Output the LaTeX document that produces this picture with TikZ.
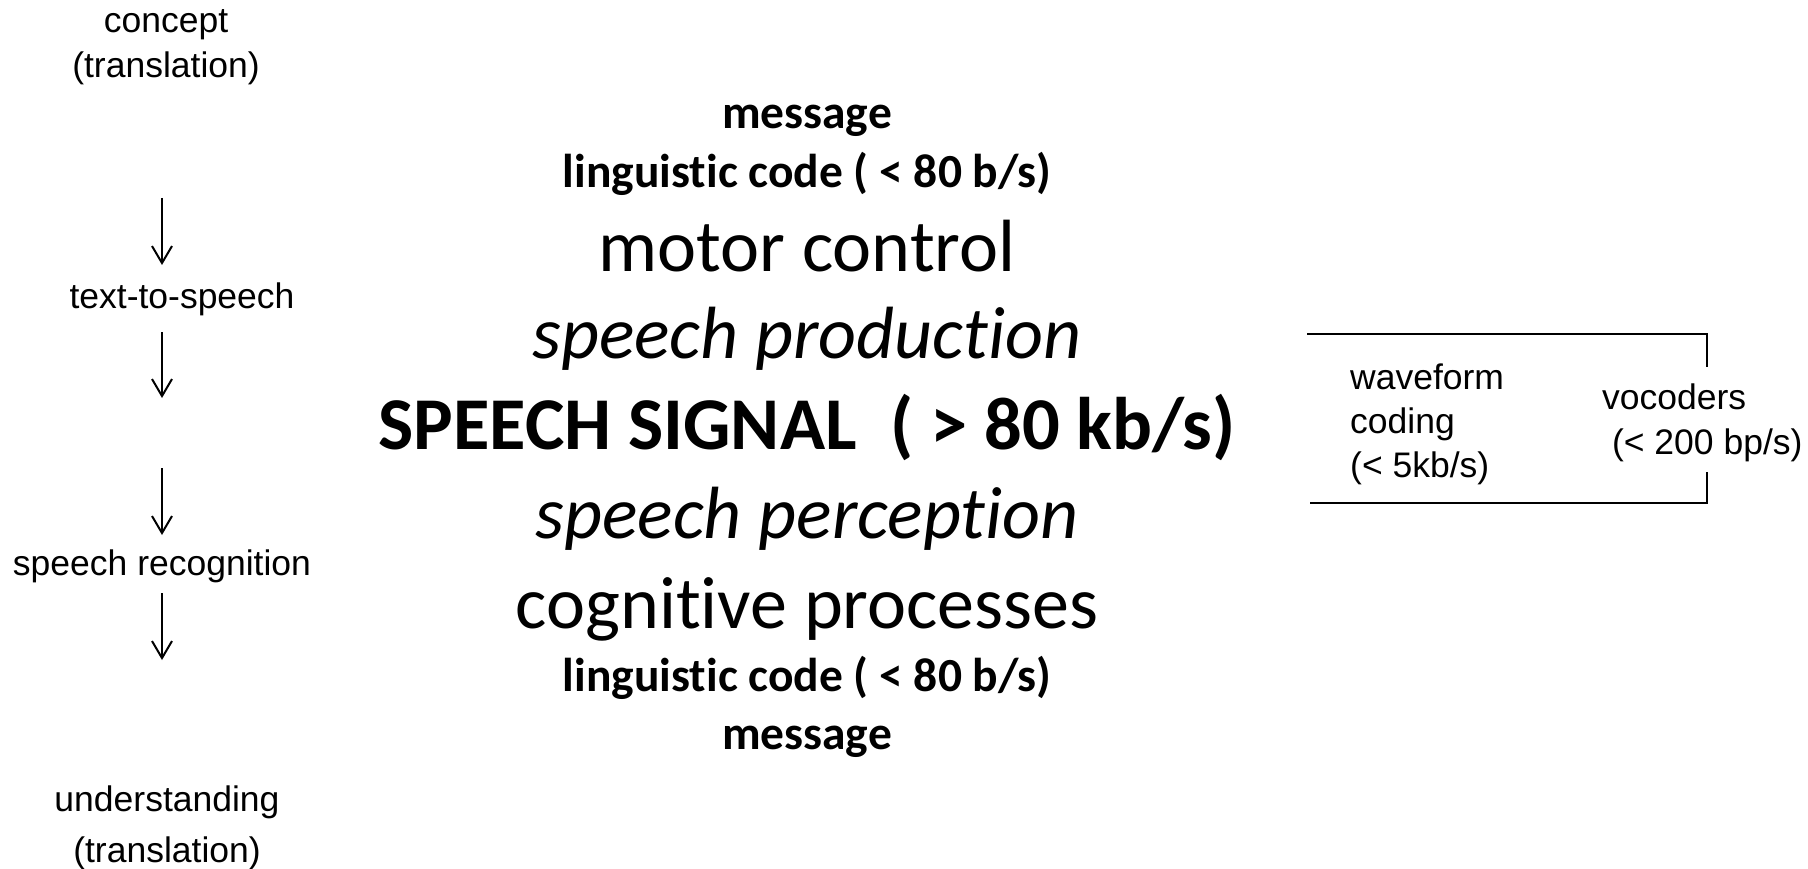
\documentclass[tikz,border=0pt]{standalone}
\usepackage{fontspec}
\setmainfont{Liberation Sans}
\newfontfamily\calibri[Ligatures={NoCommon,NoContextual}]{Carlito}
\usetikzlibrary{arrows.meta}
\tikzset{
  side/.style={inner sep=0pt, align=center, font=\fontsize{35.5}{45}\selectfont},
  sidel/.style={inner sep=0pt, align=left, anchor=west, font=\fontsize{35.5}{44}\selectfont},
  smallbold/.style={inner sep=0pt, font=\calibri\bfseries\fontsize{47.5}{50}\selectfont},
  big/.style={inner sep=0pt, font=\calibri\fontsize{74}{80}\selectfont},
  bigit/.style={inner sep=0pt, font=\calibri\itshape\fontsize{74}{80}\selectfont},
  bigbold/.style={inner sep=0pt, font=\calibri\bfseries\fontsize{74.5}{80}\selectfont},
  down/.style={line width=2pt, -{Straight Barb[length=17pt,width=20pt,line width=2pt]}},
  bracket/.style={line width=2pt},
}
\begin{document}
\begin{tikzpicture}[x=1pt,y=-1pt]
\useasboundingbox (0,0) rectangle (1808,869);
% left column
\node[side] (concept) at (166,47) {concept\\(translation)};
\node[side] (tts) at (182,299) {text-to-speech};
\node[side] (sr) at (162,566) {speech recognition};
\node[side, font=\fontsize{35.5}{51}\selectfont] (und) at (167,828) {understanding\\ (translation)};
\coordinate (a1s) at (162,198); \coordinate (a1e) at (162,265);
\coordinate (a2s) at (162,332); \coordinate (a2e) at (162,398);
\coordinate (a3s) at (162,468); \coordinate (a3e) at (162,535);
\coordinate (a4s) at (162,593); \coordinate (a4e) at (162,660);
\draw[down] (a1s) -- (a1e);
\draw[down] (a2s) -- (a2e);
\draw[down] (a3s) -- (a3e);
\draw[down] (a4s) -- (a4e);
% center column
\node[smallbold] (msg1) at (807,121) {message};
\node[smallbold] (lc1) at (807,174) {linguistic code ( < 80 b/s)};
\node[big] (mc) at (807,246) {motor control};
\node[bigit] (sp) at (807,339) {speech production};
\node[bigbold] (sig) at (807,427) {SPEECH SIGNAL\ \ ( > 80 kb/s)};
\node[bigit] (spe) at (807,519) {speech perception};
\node[big] (cog) at (807,609) {cognitive processes};
\node[smallbold] (lc2) at (807,678) {linguistic code ( < 80 b/s)};
\node[smallbold] (msg2) at (807,742) {message};
% right bracket
\coordinate (tl) at (1307,334); \coordinate (tr) at (1707,334); \coordinate (trd) at (1707,367);
\coordinate (bl) at (1310,503); \coordinate (br) at (1707,503); \coordinate (bru) at (1707,472);
\draw[bracket] (tl) -- (tr) -- (trd);
\draw[bracket] (bl) -- (br) -- (bru);
\node[sidel] (wave) at (1350,424) {waveform\\coding\\(< 5kb/s)};
\node[sidel, font=\fontsize{35.5}{45}\selectfont] (voc) at (1602,423) {vocoders\\\ (< 200 bp/s)};
\end{tikzpicture}
\end{document}
